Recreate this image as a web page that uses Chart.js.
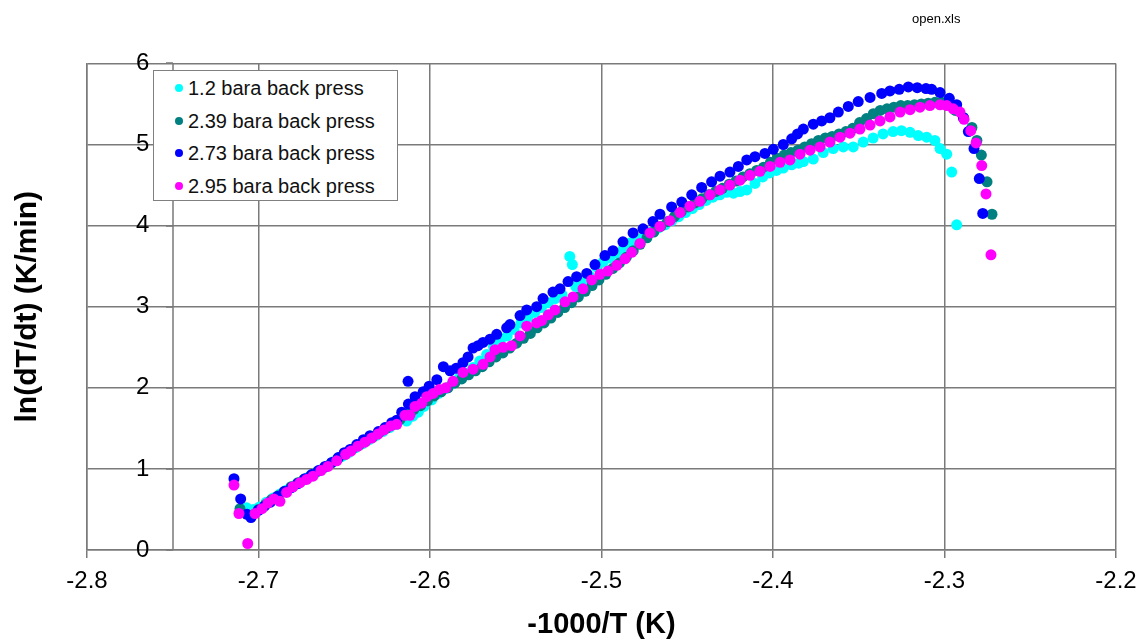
<!DOCTYPE html>
<html>
<head>
<meta charset="utf-8">
<script src="https://cdn.jsdelivr.net/npm/chart.js@4.4.1/dist/chart.umd.min.js"></script>
<style>
  body { margin: 0; background: #fff; font-family: 'Liberation Sans', Arial, sans-serif; }
  #wrap { position: relative; width: 1146px; height: 644px; }
  #fileTag { position: absolute; left: 912px; top: 11px; font-size: 13px; color: #000; }
  #legendBox { position: absolute; left: 153px; top: 70px; width: 243px; height: 129px;
    border: 1px solid #808080; background: #fff; }
  .row { position: absolute; left: 0; height: 30px; line-height: 30px; font-size: 20px; color: #111; white-space: nowrap; }
  .dot { position: absolute; left: 21px; top: 11px; width: 8px; height: 8px; border-radius: 50%; }
  .row span.t { position: absolute; left: 34px; top: 0; }
</style>
</head>
<body>
<div id="wrap">
  <canvas id="chartP" width="1146" height="644"></canvas>
  <div id="fileTag">open.xls</div>
  <div id="legendBox"></div>
</div>
<script>
// series labels + colours
const seriesNames = ['1.2 bara back press', '2.39 bara back press', '2.73 bara back press', '2.95 bara back press'];
const seriesColors = ['#00FFFF', '#008080', '#0000FF', '#FF00FF'];

// axis ticks
const xTicks = [-2.8, -2.7, -2.6, -2.5, -2.4, -2.3, -2.2];
const yTicks = [0, 1, 2, 3, 4, 5, 6];
const yAxisAt = -2.75;

// [-1000/T, ln(dT/dt)]
const s120 = [
  [-2.7069,0.52],[-2.7030,0.50],[-2.6995,0.53],[-2.6955,0.59],[-2.6915,0.64],[-2.6875,0.69],[-2.6835,0.74],[-2.6795,0.79],
  [-2.6755,0.84],[-2.6715,0.89],[-2.6675,0.94],[-2.6635,0.99],[-2.6595,1.04],[-2.6555,1.10],[-2.6515,1.15],[-2.6475,1.20],
  [-2.6435,1.26],[-2.6395,1.31],[-2.6355,1.36],[-2.6315,1.41],[-2.6275,1.46],[-2.6235,1.51],[-2.6195,1.55],[-2.6136,1.59],
  [-2.6100,1.65],[-2.6068,1.70],[-2.6035,1.77],[-2.5990,1.85],[-2.5950,1.93],[-2.5910,1.99],[-2.5870,2.05],[-2.5830,2.12],
  [-2.5790,2.18],[-2.5750,2.25],[-2.5710,2.33],[-2.5670,2.41],[-2.5630,2.51],[-2.5590,2.58],[-2.5550,2.64],[-2.5510,2.72],
  [-2.5470,2.80],[-2.5430,2.87],[-2.5390,2.93],[-2.5350,2.99],[-2.5310,3.05],[-2.5270,3.10],[-2.5230,3.15],[-2.5185,3.62],
  [-2.5170,3.52],[-2.5150,3.25],[-2.5110,3.31],[-2.5070,3.38],[-2.5030,3.49],[-2.4990,3.55],[-2.4950,3.60],[-2.4910,3.66],
  [-2.4870,3.73],[-2.4830,3.79],[-2.4790,3.83],[-2.4750,3.88],[-2.4710,3.92],[-2.4670,3.97],[-2.4630,4.01],[-2.4590,4.06],
  [-2.4550,4.11],[-2.4510,4.16],[-2.4470,4.21],[-2.4430,4.26],[-2.4390,4.31],[-2.4350,4.35],[-2.4310,4.38],[-2.4270,4.41],
  [-2.4230,4.40],[-2.4192,4.42],[-2.4153,4.44],[-2.4105,4.52],[-2.4060,4.60],[-2.4020,4.65],[-2.3980,4.68],[-2.3940,4.71],
  [-2.3891,4.75],[-2.3850,4.77],[-2.3823,4.79],[-2.3765,4.82],[-2.3707,4.90],[-2.3649,4.95],[-2.3590,4.97],[-2.3532,4.97],
  [-2.3474,5.03],[-2.3416,5.08],[-2.3358,5.13],[-2.3300,5.16],[-2.3251,5.17],[-2.3201,5.15],[-2.3153,5.11],[-2.3104,5.09],
  [-2.3056,5.05],[-2.3026,4.95],[-2.2987,4.88],[-2.2958,4.66],[-2.2929,4.01]
];
const s239 = [
  [-2.7108,0.51],[-2.7000,0.50],[-2.6960,0.56],[-2.6925,0.62],[-2.6885,0.67],[-2.6850,0.72],[-2.6810,0.78],[-2.6770,0.83],
  [-2.6735,0.87],[-2.6695,0.92],[-2.6655,0.97],[-2.6615,1.02],[-2.6575,1.07],[-2.6535,1.13],[-2.6495,1.18],[-2.6455,1.24],
  [-2.6415,1.29],[-2.6375,1.34],[-2.6335,1.39],[-2.6295,1.45],[-2.6255,1.50],[-2.6215,1.55],[-2.6175,1.61],[-2.6135,1.67],
  [-2.6095,1.73],[-2.6055,1.78],[-2.6015,1.84],[-2.5975,1.90],[-2.5935,1.95],[-2.5895,2.00],[-2.5855,2.06],[-2.5815,2.11],
  [-2.5775,2.16],[-2.5735,2.21],[-2.5695,2.26],[-2.5655,2.32],[-2.5615,2.38],[-2.5575,2.43],[-2.5535,2.49],[-2.5495,2.55],
  [-2.5455,2.61],[-2.5415,2.67],[-2.5375,2.74],[-2.5335,2.80],[-2.5295,2.86],[-2.5255,2.93],[-2.5215,2.99],[-2.5175,3.05],
  [-2.5135,3.12],[-2.5095,3.19],[-2.5055,3.26],[-2.5015,3.33],[-2.4975,3.40],[-2.4935,3.47],[-2.4895,3.54],[-2.4855,3.61],
  [-2.4815,3.69],[-2.4775,3.77],[-2.4735,3.85],[-2.4695,3.92],[-2.4655,3.99],[-2.4615,4.05],[-2.4575,4.11],[-2.4535,4.17],
  [-2.4495,4.23],[-2.4455,4.28],[-2.4415,4.33],[-2.4375,4.38],[-2.4335,4.42],[-2.4295,4.46],[-2.4255,4.51],[-2.4215,4.55],
  [-2.4175,4.60],[-2.4135,4.64],[-2.4095,4.68],[-2.4055,4.72],[-2.4015,4.78],[-2.3975,4.83],[-2.3935,4.87],[-2.3895,4.90],
  [-2.3855,4.93],[-2.3815,4.97],[-2.3775,5.01],[-2.3735,5.05],[-2.3695,5.08],[-2.3655,5.10],[-2.3615,5.13],[-2.3575,5.16],
  [-2.3535,5.20],[-2.3495,5.27],[-2.3455,5.32],[-2.3415,5.38],[-2.3375,5.42],[-2.3335,5.44],[-2.3295,5.46],[-2.3255,5.48],
  [-2.3215,5.48],[-2.3175,5.49],[-2.3135,5.50],[-2.3095,5.51],[-2.3055,5.52],[-2.3015,5.52],[-2.2975,5.49],[-2.2937,5.42],
  [-2.2889,5.33],[-2.2840,5.21],[-2.2811,5.05],[-2.2785,4.87],[-2.2752,4.54],[-2.2723,4.14]
];
const s273 = [
  [-2.7143,0.88],[-2.7104,0.63],[-2.7067,0.44],[-2.7044,0.40],[-2.7000,0.49],[-2.6965,0.54],[-2.6930,0.59],[-2.6890,0.66],
  [-2.6850,0.72],[-2.6807,0.77],[-2.6770,0.82],[-2.6730,0.88],[-2.6690,0.93],[-2.6650,0.98],[-2.6612,1.03],[-2.6573,1.08],
  [-2.6535,1.14],[-2.6500,1.20],[-2.6466,1.24],[-2.6427,1.30],[-2.6388,1.36],[-2.6350,1.41],[-2.6301,1.46],[-2.6262,1.51],
  [-2.6223,1.57],[-2.6194,1.60],[-2.6165,1.70],[-2.6128,2.08],[-2.6126,1.80],[-2.6087,1.89],[-2.6040,1.95],[-2.6005,2.02],
  [-2.5960,2.10],[-2.5922,2.26],[-2.5883,2.21],[-2.5848,2.24],[-2.5808,2.31],[-2.5778,2.38],[-2.5749,2.49],[-2.5720,2.52],
  [-2.5691,2.56],[-2.5650,2.60],[-2.5611,2.66],[-2.5553,2.74],[-2.5534,2.78],[-2.5475,2.89],[-2.5436,2.96],[-2.5378,3.00],
  [-2.5341,3.10],[-2.5283,3.18],[-2.5242,3.22],[-2.5195,3.31],[-2.5145,3.37],[-2.5086,3.41],[-2.5038,3.52],[-2.4980,3.63],
  [-2.4933,3.69],[-2.4875,3.80],[-2.4816,3.91],[-2.4758,3.96],[-2.4700,4.05],[-2.4659,4.14],[-2.4591,4.23],[-2.4532,4.29],
  [-2.4474,4.38],[-2.4416,4.47],[-2.4358,4.54],[-2.4309,4.61],[-2.4251,4.66],[-2.4202,4.73],[-2.4153,4.81],[-2.4105,4.85],
  [-2.4047,4.89],[-2.3998,4.94],[-2.3940,5.00],[-2.3891,5.07],[-2.3857,5.13],[-2.3823,5.19],[-2.3765,5.25],[-2.3716,5.29],
  [-2.3668,5.33],[-2.3619,5.40],[-2.3561,5.47],[-2.3503,5.53],[-2.3434,5.58],[-2.3366,5.63],[-2.3318,5.66],[-2.3264,5.68],
  [-2.3211,5.71],[-2.3159,5.70],[-2.3108,5.69],[-2.3075,5.68],[-2.3026,5.64],[-2.2972,5.57],[-2.2929,5.49],[-2.2890,5.33],
  [-2.2861,5.16],[-2.2828,4.95],[-2.2797,4.58],[-2.2777,4.15]
];
const s295 = [
  [-2.7143,0.80],[-2.7114,0.45],[-2.7063,0.08],[-2.7020,0.45],[-2.6980,0.51],[-2.6945,0.58],[-2.6910,0.63],[-2.6875,0.60],
  [-2.6836,0.71],[-2.6799,0.78],[-2.6758,0.83],[-2.6719,0.87],[-2.6682,0.91],[-2.6636,0.98],[-2.6595,1.03],[-2.6544,1.10],
  [-2.6492,1.18],[-2.6461,1.22],[-2.6420,1.28],[-2.6379,1.33],[-2.6340,1.38],[-2.6303,1.43],[-2.6268,1.48],[-2.6229,1.53],
  [-2.6194,1.55],[-2.6146,1.66],[-2.6117,1.66],[-2.6087,1.77],[-2.6048,1.81],[-2.6019,1.89],[-2.5982,1.93],[-2.5945,1.98],
  [-2.5908,2.00],[-2.5866,2.08],[-2.5808,2.19],[-2.5749,2.23],[-2.5691,2.29],[-2.5650,2.38],[-2.5621,2.47],[-2.5574,2.50],
  [-2.5524,2.52],[-2.5475,2.64],[-2.5436,2.76],[-2.5378,2.80],[-2.5349,2.83],[-2.5310,2.90],[-2.5271,2.96],[-2.5213,3.06],
  [-2.5166,3.12],[-2.5108,3.22],[-2.5057,3.33],[-2.5009,3.40],[-2.4962,3.44],[-2.4911,3.51],[-2.4863,3.59],[-2.4824,3.67],
  [-2.4776,3.78],[-2.4717,3.91],[-2.4659,3.99],[-2.4601,4.06],[-2.4542,4.16],[-2.4484,4.24],[-2.4426,4.30],[-2.4367,4.38],
  [-2.4309,4.44],[-2.4251,4.50],[-2.4192,4.56],[-2.4134,4.62],[-2.4076,4.67],[-2.4017,4.73],[-2.3959,4.78],[-2.3901,4.81],
  [-2.3843,4.88],[-2.3784,4.93],[-2.3726,4.97],[-2.3668,5.03],[-2.3609,5.09],[-2.3551,5.14],[-2.3493,5.19],[-2.3434,5.24],
  [-2.3376,5.29],[-2.3318,5.34],[-2.3259,5.40],[-2.3201,5.43],[-2.3143,5.46],[-2.3085,5.48],[-2.3026,5.49],[-2.2987,5.48],
  [-2.2949,5.44],[-2.2910,5.40],[-2.2886,5.31],[-2.2847,5.17],[-2.2816,5.02],[-2.2783,4.74],[-2.2758,4.39],[-2.2729,3.64]
];

const gridColor = '#7a7a7a';
const fontFam = "'Liberation Sans', Arial, sans-serif";

// legend (html)
const legendBox = document.getElementById('legendBox');
seriesNames.forEach((name, i) => {
  const row = document.createElement('div');
  row.className = 'row';
  row.style.top = (2 + i * 32.5) + 'px';
  row.innerHTML = '<div class="dot" style="background:' + seriesColors[i] + '"></div><span class="t"></span>';
  row.querySelector('.t').textContent = name;
  legendBox.appendChild(row);
});

// excel puts the value axis at x = -2.75
const yAxisLine = {
  id: 'yAxisLine',
  beforeDatasetsDraw(chart) {
    const {ctx, scales: {x, y}} = chart;
    const px = Math.round(x.getPixelForValue(yAxisAt));
    ctx.save();
    ctx.strokeStyle = gridColor;
    ctx.lineWidth = 1.5;
    ctx.beginPath();
    ctx.moveTo(px, y.top);
    ctx.lineTo(px, y.bottom);
    yTicks.forEach(v => {
      const py = Math.round(y.getPixelForValue(v));
      ctx.moveTo(px - 7, py);
      ctx.lineTo(px, py);
    });
    ctx.stroke();
    ctx.restore();
  }
};

const toPts = arr => arr.map(p => ({x: p[0], y: p[1]}));
const allSeries = [s120, s239, s273, s295];

const data = {
  datasets: allSeries.map((s, i) => ({
    label: seriesNames[i],
    data: toPts(s),
    backgroundColor: seriesColors[i],
    borderColor: seriesColors[i],
    pointRadius: 5.5,
    pointBorderWidth: 0,
    showLine: false,
    order: 4 - i
  }))
};

const options = {
  responsive: false,
  animation: false,
  layout: { padding: { top: 43, right: 30, left: 0, bottom: 0 } },
  plugins: {
    legend: { display: false },
    tooltip: { enabled: false }
  },
  scales: {
    x: {
      type: 'linear',
      min: -2.8,
      max: -2.2,
      afterBuildTicks: axis => { axis.ticks = xTicks.map(v => ({value: v})); },
      afterFit: axis => { axis.height = 94; },
      grid: { color: gridColor, lineWidth: 1.5, tickLength: 8, tickColor: gridColor },
      border: { color: gridColor, width: 1.5 },
      ticks: { color: '#000', font: { size: 24, family: fontFam }, padding: 9, maxRotation: 0 },
      title: { display: true, text: '-1000/T (K)', color: '#000',
        font: { size: 29, weight: 'bold', family: fontFam }, padding: { top: 0, bottom: 2 } }
    },
    y: {
      type: 'linear',
      min: 0,
      max: 6,
      afterBuildTicks: axis => { axis.ticks = yTicks.map(v => ({value: v})); },
      afterFit: axis => { axis.width = 87; },
      grid: { color: gridColor, lineWidth: 1.5, drawTicks: false },
      border: { color: gridColor, width: 1.5 },
      ticks: { color: '#000', mirror: true, padding: 49, font: { size: 24, family: fontFam } },
      title: { display: true, text: 'ln(dT/dt) (K/min)', color: '#000',
        font: { size: 30, weight: 'bold', family: fontFam }, padding: { top: 10, bottom: 0 } }
    }
  }
};

const config = {
  type: 'scatter',
  data: data,
  options,
  plugins: [yAxisLine]
};

const chartP = new Chart(document.getElementById('chartP'), config);
</script>
</body>
</html>
